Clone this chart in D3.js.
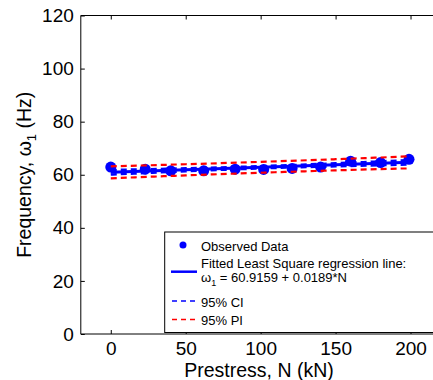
<!DOCTYPE html>
<html>
<head>
<meta charset="utf-8">
<script src="https://cdn.jsdelivr.net/npm/d3@7"></script>
<style>
  html, body { margin: 0; padding: 0; background: #fff; }
  svg { display: block; font-family: "Liberation Sans", Arial, sans-serif; }
</style>
</head>
<body>
<script>
// Observed natural frequency vs. prestress
const prestress = [0, 23, 40, 62, 83, 102, 121, 140, 160, 180, 199];
const frequency = [62.9, 62.1, 61.5, 61.5, 62.1, 62.0, 62.4, 62.9, 65.1, 64.6, 65.8];

// Least-squares fit: w1 = a + b*N
const fitIntercept = 60.9159;
const fitSlope = 0.0189;
const fitRange = [0, 200];

// Confidence / prediction bounds sampled along N
const boundN = [0, 50, 100, 150, 200];
const ciUpper = [61.77, 62.41, 63.23, 64.30, 65.55];
const ciLower = [60.07, 61.31, 62.39, 63.20, 63.85];
const piUpper = [63.17, 63.96, 64.86, 65.85, 66.95];
const piLower = [58.67, 59.76, 60.76, 61.65, 62.45];

const xTicks = [0, 50, 100, 150, 200];
const yTicks = [0, 20, 40, 60, 80, 100, 120];

const W = 433, H = 380;
const BLUE = "#0000ff", RED = "#ff0000";

const svg = d3.select("body").append("svg")
  .attr("width", W).attr("height", H);
svg.append("rect").attr("width", W).attr("height", H).attr("fill", "#fff");

const x = d3.scaleLinear().domain([-20, 220]).range([80.8, 440.5]);
const y = d3.scaleLinear().domain([0, 120]).range([334, 15.5]);

const axLeft = x(-20), axRight = x(220), axTop = y(120), axBottom = y(0);

// axes frame
const frame = svg.append("g").attr("stroke", "#000").attr("stroke-width", 1).attr("fill", "none");
frame.append("line").attr("x1", axLeft).attr("x2", axLeft).attr("y1", axTop).attr("y2", axBottom);
frame.append("line").attr("x1", axLeft).attr("x2", axRight).attr("y1", axBottom).attr("y2", axBottom);
frame.append("line").attr("x1", axLeft).attr("x2", axRight).attr("y1", axTop).attr("y2", axTop);
frame.append("line").attr("x1", axRight).attr("x2", axRight).attr("y1", axTop).attr("y2", axBottom);

// inward ticks
const tickLen = 4;
const xAxisB = d3.axisBottom(x).tickValues(xTicks).tickSizeInner(-tickLen).tickSizeOuter(0).tickPadding(8);
const gx = svg.append("g").attr("transform", `translate(0,${axBottom})`).call(xAxisB);
gx.select(".domain").remove();
gx.selectAll("text").attr("font-size", 19).attr("font-family", "Liberation Sans, Arial, sans-serif").attr("fill", "#000");
gx.selectAll("line").attr("stroke", "#000");

const xAxisT = d3.axisTop(x).tickValues(xTicks).tickSizeInner(-tickLen).tickSizeOuter(0).tickFormat("");
const gxt = svg.append("g").attr("transform", `translate(0,${axTop})`).call(xAxisT);
gxt.select(".domain").remove();
gxt.selectAll("line").attr("stroke", "#000");

const yAxisL = d3.axisLeft(y).tickValues(yTicks).tickSizeInner(-tickLen).tickSizeOuter(0).tickPadding(7);
const gy = svg.append("g").attr("transform", `translate(${axLeft},0)`).call(yAxisL);
gy.select(".domain").remove();
gy.selectAll("text").attr("font-size", 19).attr("font-family", "Liberation Sans, Arial, sans-serif").attr("fill", "#000");
gy.selectAll("line").attr("stroke", "#000");

// axis titles
svg.append("text")
  .attr("x", 259).attr("y", 377)
  .attr("text-anchor", "middle").attr("font-size", 19.5).attr("fill", "#000")
  .text("Prestress, N (kN)");

const yl = svg.append("text")
  .attr("transform", `translate(31,${(axTop + axBottom) / 2}) rotate(-90)`)
  .attr("text-anchor", "middle").attr("font-size", 19.5).attr("fill", "#000");
yl.append("tspan").text("Frequency, ω");
yl.append("tspan").attr("font-size", 13).attr("dy", 5).text("1");
yl.append("tspan").attr("dy", -5).text(" (Hz)");

// observed data
svg.append("g").selectAll("circle")
  .data(prestress.map((n, i) => [n, frequency[i]]))
  .join("circle")
  .attr("cx", d => x(d[0])).attr("cy", d => y(d[1]))
  .attr("r", 5.5).attr("fill", BLUE);

// fitted regression line
const fitLine = fitRange.map(n => [n, fitIntercept + fitSlope * n]);
const line = d3.line().x(d => x(d[0])).y(d => y(d[1]));
svg.append("path").attr("d", line(fitLine))
  .attr("fill", "none").attr("stroke", BLUE).attr("stroke-width", 3);

// bounds
const curve = d3.line().x(d => x(d[0])).y(d => y(d[1])).curve(d3.curveNatural);
function bound(vals, color, width) {
  svg.append("path")
    .attr("d", curve(boundN.map((n, i) => [n, vals[i]])))
    .attr("fill", "none").attr("stroke", color)
    .attr("stroke-width", width).attr("stroke-dasharray", "6,4");
}
bound(ciUpper, BLUE, 2.5);
bound(ciLower, BLUE, 2.5);
bound(piUpper, RED, 2.2);
bound(piLower, RED, 2.2);

// legend
const lg = svg.append("g");
lg.append("rect")
  .attr("x", 164.7).attr("y", 232).attr("width", 300).attr("height", 100.5)
  .attr("fill", "#fff").attr("stroke", "#000").attr("stroke-width", 1);

const tx = 201;
lg.append("circle").attr("cx", 183).attr("cy", 245).attr("r", 3.5).attr("fill", BLUE);
lg.append("text").attr("x", tx).attr("y", 250.5).attr("font-size", 13).text("Observed Data");

lg.append("line").attr("x1", 171).attr("x2", 197).attr("y1", 271.7).attr("y2", 271.7)
  .attr("stroke", BLUE).attr("stroke-width", 2.5);
lg.append("text").attr("x", tx).attr("y", 267.8).attr("font-size", 13)
  .text("Fitted Least Square regression line:");
const eq = lg.append("text").attr("x", tx).attr("y", 281.8).attr("font-size", 13);
eq.append("tspan").text("ω");
eq.append("tspan").attr("font-size", 9).attr("dy", 4).text("1");
eq.append("tspan").attr("dy", -4).text(` = ${fitIntercept.toFixed(4)} + ${fitSlope.toFixed(4)}*N`);

lg.append("line").attr("x1", 172).attr("x2", 198).attr("y1", 301).attr("y2", 301)
  .attr("stroke", BLUE).attr("stroke-width", 1.6).attr("stroke-dasharray", "5,4");
lg.append("text").attr("x", tx).attr("y", 306.5).attr("font-size", 13).text("95% CI");

lg.append("line").attr("x1", 172).attr("x2", 198).attr("y1", 319.5).attr("y2", 319.5)
  .attr("stroke", RED).attr("stroke-width", 1.6).attr("stroke-dasharray", "5,4");
lg.append("text").attr("x", tx).attr("y", 325).attr("font-size", 13).text("95% PI");
</script>
</body>
</html>
